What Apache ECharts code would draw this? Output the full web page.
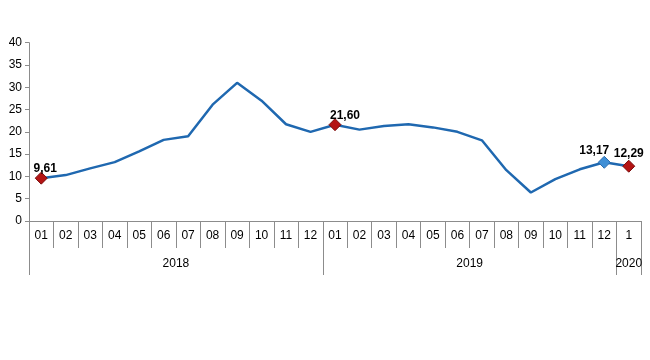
<!DOCTYPE html>
<html><head><meta charset="utf-8">
<script src="https://cdn.jsdelivr.net/npm/echarts@6/dist/echarts.min.js"></script>
<style>html,body{margin:0;padding:0;background:#fff}#c{width:650px;height:360px}</style>
</head><body><div id="c"></div>
<script>
const months = ['01','02','03','04','05','06','07','08','09','10','11','12','01','02','03','04','05','06','07','08','09','10','11','12','1'];
const values = [9.61,10.3,11.8,13.2,15.6,18.2,19.0,26.1,31.0,27.0,21.7,20.0,21.60,20.5,21.3,21.7,21.0,20.0,18.1,11.4,6.4,9.4,11.6,13.17,12.29];
const years = ['2018','2019','2020'];
const yearStart = [0,12,24];
const yearEnd = [12,24,25];
const redPoints = [0,12,24];
const bluePoints = [23];
const yTicks = [0,5,10,15,20,25,30,35,40];

const labelOffsets = {0:[4,4],12:[10,4],23:[-10,2],24:[0,1]};
const fmt = v => v.toFixed(2).replace('.', ',');
const seriesData = values.map((v,i) => {
  const isRed = redPoints.includes(i), isBlue = bluePoints.includes(i);
  if (!isRed && !isBlue) return {value: v, symbol: 'none'};
  return {
    value: v, symbol: 'diamond', symbolSize: 12,
    itemStyle: isRed ? {color:'#b41414', borderColor:'#7a0c0c', borderWidth:1}
                     : {color:'#3f8fd6', borderColor:'#2a6cae', borderWidth:1},
    label: {show:true, position:'top', distance:1, offset: labelOffsets[i] || [0,0],
      formatter: () => fmt(v), fontWeight:'bold', fontSize:12, color:'#000', fontFamily:'Liberation Sans, Arial'}
  };
});
const yearPos = {};
years.forEach((y,k) => { yearPos[yearStart[k] + yearEnd[k]] = y; });

const chart = echarts.init(document.getElementById('c'), null, {renderer:'canvas'});
chart.setOption({
  animation:false,
  textStyle:{fontFamily:'Liberation Sans, Arial', color:'#000'},
  grid:{left:29, right:9, top:42.7, bottom:139, containLabel:false},
  xAxis:[
    {type:'category', data:months, boundaryGap:true,
     axisLine:{show:true, lineStyle:{color:'#8c8c8c', width:1}},
     axisTick:{show:true, interval:0, length:27, lineStyle:{color:'#8c8c8c', width:1}},
     axisLabel:{interval:0, margin:9, fontSize:12, color:'#000', fontFamily:'Liberation Sans, Arial'}},
    {type:'category', data:months, boundaryGap:true, position:'bottom',
     axisLine:{show:false},
     axisTick:{show:true, interval:(i)=>yearStart.includes(i), length:54, lineStyle:{color:'#8c8c8c', width:1}},
     axisLabel:{show:false}},
    {type:'value', min:0, max:2*months.length, interval:1, position:'bottom',
     axisLine:{show:false}, axisTick:{show:false}, splitLine:{show:false},
     axisLabel:{margin:37, fontSize:12, color:'#000', fontFamily:'Liberation Sans, Arial',
       formatter:(v)=> yearPos[v] || ''}}
  ],
  yAxis:{type:'value', min:yTicks[0], max:yTicks[yTicks.length-1], interval:5,
    axisLine:{show:true, lineStyle:{color:'#8c8c8c'}},
    axisTick:{show:true, length:4, lineStyle:{color:'#8c8c8c'}},
    splitLine:{show:false},
    axisLabel:{margin:7, fontSize:12, color:'#000', fontFamily:'Liberation Sans, Arial'}},
  series:[{type:'line', xAxisIndex:0, data:seriesData, showSymbol:true,
    lineStyle:{color:'#1f68b0', width:2.5}, itemStyle:{color:'#1f68b0'}, z:3}]
});
</script></body></html>
